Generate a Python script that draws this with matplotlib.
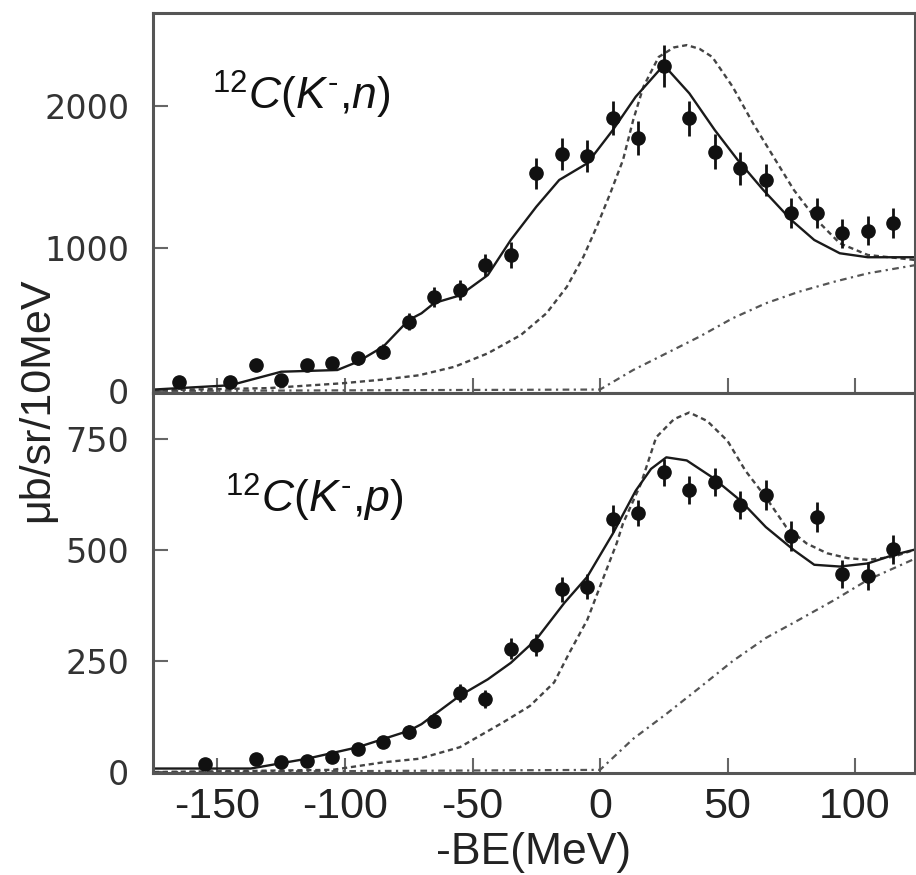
import matplotlib
matplotlib.use("Agg")
import matplotlib.pyplot as plt

plt.rcParams['mathtext.fontset'] = 'custom'
plt.rcParams['mathtext.rm'] = 'Liberation Sans'
plt.rcParams['mathtext.it'] = 'Liberation Sans:italic'
plt.rcParams['axes.unicode_minus'] = False

# ---- 12C(K-,n) data ----
n_x = [-165, -145, -135, -125, -115, -105, -95, -85, -75, -65, -55, -45, -35, -25,
       -15, -5, 5, 15, 25, 35, 45, 55, 65, 75, 85, 95, 105, 115]
n_y = [65, 65, 182, 77, 182, 194, 229, 276, 486, 661, 708, 884, 954, 1527,
       1662, 1648, 1912, 1777, 2279, 1912, 1679, 1562, 1480, 1246, 1246, 1106, 1124, 1176]
n_err = [30, 30, 40, 30, 40, 40, 45, 50, 60, 70, 70, 80, 90, 110,
         115, 115, 120, 120, 145, 125, 120, 115, 110, 105, 105, 100, 100, 105]

n_fit_x = [-175, -145, -125, -103, -95, -85, -75, -70, -65, -55, -44, -35, -25, -16, -5,
           5, 14, 25, 35, 45, 54, 64, 75, 84, 94, 105, 124]
n_fit_y = [10, 40, 135, 147, 205, 311, 498, 545, 617, 670, 813, 1059, 1292, 1480, 1597,
           1830, 2064, 2286, 2088, 1830, 1620, 1410, 1199, 1059, 966, 938, 938]

n_dash_x = [-175, -130, -101, -85, -71, -57, -44, -31, -21, -13, -6.5, -1.3, 4, 9, 13, 17, 23, 29,
            34, 39, 44, 52, 60, 68, 76, 85, 94, 105, 124]
n_dash_y = [5, 20, 54, 80, 110, 170, 264, 393, 545, 731, 942, 1152, 1386, 1620, 1900, 2134, 2343, 2410,
            2426, 2400, 2343, 2134, 1877, 1643, 1410, 1199, 1036, 954, 918]

n_bg_x = [-175, 0, 13, 26, 39, 52, 65, 78, 92, 105, 124]
n_bg_y = [0, 10, 147, 264, 381, 510, 615, 696, 767, 825, 884]

# ---- 12C(K-,p) data ----
p_x = [-155, -135, -125, -115, -105, -95, -85, -75, -65, -55, -45, -35, -25,
       -15, -5, 5, 15, 25, 35, 45, 55, 65, 75, 85, 95, 105, 115]
p_y = [19, 30, 23, 26, 34, 52, 67, 90, 116, 179, 164, 278, 287,
       412, 418, 571, 584, 675, 636, 653, 602, 625, 532, 575, 446, 442, 502]
p_err = [8, 10, 8, 9, 10, 12, 13, 15, 17, 20, 20, 24, 25,
         28, 28, 30, 30, 30, 32, 32, 32, 34, 33, 34, 32, 32, 33]

p_fit_x = [-175, -137, -115, -95, -75, -70, -55, -44, -35, -25, -14, -5,
           5, 14, 20, 26, 34, 44, 55, 65, 76, 84, 94, 105, 115, 124]
p_fit_y = [8, 8, 30, 56, 93, 108, 172, 209, 246, 299, 381, 440,
           537, 634, 683, 709, 702, 664, 612, 552, 500, 467, 463, 470, 489, 502]

p_dash_x = [-175, -105, -85, -71, -55, -38, -27.5, -18, -12, -5, 1, 6.5, 9, 16, 22, 29,
            35, 42, 50, 57, 65, 73, 81, 89, 97, 105, 115, 124]
p_dash_y = [0, 5, 22, 30, 56, 112, 149, 202, 269, 343, 433, 515, 560, 649, 754, 795,
            810, 791, 746, 679, 619, 552, 515, 493, 482, 478, 485, 502]

p_bg_x = [-175, 0, 13, 26, 39, 52, 65, 78, 92, 105, 124]
p_bg_y = [0, 5, 75, 131, 190, 250, 302, 343, 388, 433, 482]

xlim = (-175.3, 123.5)

fig = plt.figure(figsize=(9.16, 8.75), dpi=100)
ax1 = fig.add_axes([0.167, 0.5509, 0.8319, 0.4342])
ax2 = fig.add_axes([0.167, 0.1166, 0.8319, 0.4343])


def draw(ax, px, py, perr, fx, fy, dx, dy, bx, by, ylim, yticks, label, lx, ly):
    ax.plot(bx, by, color='#555555', lw=1.6, dashes=(3, 2, 1, 2))
    ax.plot(dx, dy, color='#444444', lw=1.7, dashes=(2.2, 1.6))
    ax.plot(fx, fy, color='#1a1a1a', lw=1.7)
    ax.errorbar(px, py, yerr=perr, fmt='o', color='#111111', ms=9.5,
                elinewidth=2.0, capsize=0, zorder=5)
    ax.set_xlim(*xlim)
    ax.set_ylim(*ylim)
    ax.set_yticks(yticks)
    ax.set_xticks([-150, -100, -50, 0, 50, 100])
    ax.tick_params(direction='in', length=11, width=1.5, color='#666666')
    ax.tick_params(axis='y', labelsize=24, pad=17, labelcolor='#333333')
    ax.tick_params(axis='x', labelsize=31, pad=10, labelcolor='#222222')
    for lab in ax.get_xticklabels():
        lab.set_family('Liberation Sans')
    for s in ax.spines.values():
        s.set_color('#555555')
        s.set_linewidth(2.2)
    ax.text(lx, ly, label, fontsize=32, ha='left', va='baseline', color='#111111')


draw(ax1, n_x, n_y, n_err, n_fit_x, n_fit_y, n_dash_x, n_dash_y, n_bg_x, n_bg_y,
     (-14, 2651), [0, 1000, 2000], "$\\mathrm{^{12}}\\mathit{C(K^{\u2010}{,}n)}$", -152, 1975)
draw(ax2, p_x, p_y, p_err, p_fit_x, p_fit_y, p_dash_x, p_dash_y, p_bg_x, p_bg_y,
     (-2, 854), [0, 250, 500, 750], "$\\mathrm{^{12}}\\mathit{C(K^{\u2010}{,}p)}$", -147, 585)
ax1.tick_params(axis='x', labelbottom=False)

ax2.set_xlabel('-BE(MeV)', fontsize=32, family='Liberation Sans', color='#222222', labelpad=4)
fig.text(0.04, 0.543, 'μb/sr/10MeV', rotation=90, fontsize=31, family='Liberation Sans',
         color='#222222', ha='center', va='center')

fig.savefig('out.png', dpi=100)
